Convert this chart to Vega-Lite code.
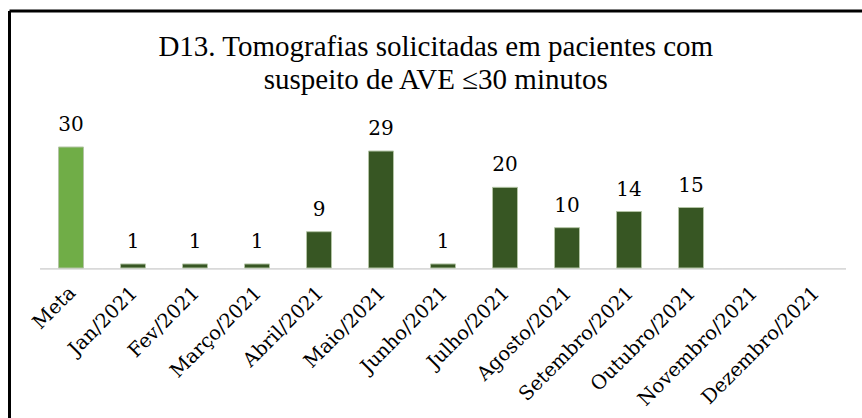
{
  "$schema": "https://vega.github.io/schema/vega-lite/v6.json",
  "autosize": "none",
  "padding": {"left": 9.5, "top": 11, "right": 0, "bottom": 0},
  "width": 852.5,
  "height": 407,
  "background": "white",
  "title": {
    "text": ["D13. Tomografias solicitadas em pacientes com", "suspeito de AVE ≤30 minutos"],
    "font": "Liberation Serif",
    "fontSize": 29,
    "fontWeight": "normal",
    "lineHeight": 33,
    "color": "#000000",
    "anchor": "middle",
    "frame": "group",
    "offset": -84
  },
  "data": {
    "values": [
      {"mes": "Meta", "valor": 30, "tipo": "Meta"},
      {"mes": "Jan/2021", "valor": 1, "tipo": "Realizado"},
      {"mes": "Fev/2021", "valor": 1, "tipo": "Realizado"},
      {"mes": "Março/2021", "valor": 1, "tipo": "Realizado"},
      {"mes": "Abril/2021", "valor": 9, "tipo": "Realizado"},
      {"mes": "Maio/2021", "valor": 29, "tipo": "Realizado"},
      {"mes": "Junho/2021", "valor": 1, "tipo": "Realizado"},
      {"mes": "Julho/2021", "valor": 20, "tipo": "Realizado"},
      {"mes": "Agosto/2021", "valor": 10, "tipo": "Realizado"},
      {"mes": "Setembro/2021", "valor": 14, "tipo": "Realizado"},
      {"mes": "Outubro/2021", "valor": 15, "tipo": "Realizado"},
      {"mes": "Novembro/2021", "valor": null, "tipo": "Realizado"},
      {"mes": "Dezembro/2021", "valor": null, "tipo": "Realizado"}
    ]
  },
  "encoding": {
    "x": {
      "field": "mes",
      "type": "nominal",
      "sort": null,
      "scale": {
        "domain": ["Meta", "Jan/2021", "Fev/2021", "Março/2021", "Abril/2021", "Maio/2021", "Junho/2021", "Julho/2021", "Agosto/2021", "Setembro/2021", "Outubro/2021", "Novembro/2021", "Dezembro/2021"],
        "paddingInner": 0.597,
        "paddingOuter": 0.6735,
        "align": 0.587
      },
      "axis": {
        "orient": "bottom",
        "offset": -150,
        "domain": false,
        "ticks": false,
        "title": null,
        "labelAngle": -45,
        "labelAlign": "right",
        "labelBaseline": "top",
        "labelPadding": 15,
        "labelOffset": -5,
        "labelFont": "DejaVu Serif",
        "labelFontSize": 19.5,
        "labelColor": "#000000",
        "labelOverlap": false,
        "labelBound": false
      }
    }
  },
  "layer": [
    {
      "mark": {"type": "bar", "color": "#d9d9d9", "width": {"band": 2.48}},
      "encoding": {
        "y": {"datum": 0, "type": "quantitative", "scale": {"domain": [-37.19, 63.72], "nice": false, "zero": false}, "axis": null},
        "y2": {"datum": -0.45}
      }
    },
    {
      "mark": {"type": "bar", "stroke": "#b3c4a5", "strokeWidth": 1},
      "encoding": {
        "y": {
          "field": "valor",
          "type": "quantitative",
          "scale": {"domain": [-37.19, 63.72], "nice": false, "zero": false},
          "axis": null
        },
        "color": {
          "field": "tipo",
          "type": "nominal",
          "scale": {"domain": ["Meta", "Realizado"], "range": ["#70ad47", "#375623"]},
          "legend": null
        }
      }
    },
    {
      "mark": {"type": "text", "baseline": "alphabetic", "dy": -16, "font": "DejaVu Serif", "fontSize": 20, "color": "#000000"},
      "encoding": {
        "y": {"field": "valor", "type": "quantitative"},
        "text": {"field": "valor", "type": "quantitative"}
      }
    }
  ],
  "config": {
    "view": {
      "stroke": "#000000",
      "strokeWidth": 3,
      "strokeDash": [852.5, 1259.5, 407, 0]
    }
  }
}
